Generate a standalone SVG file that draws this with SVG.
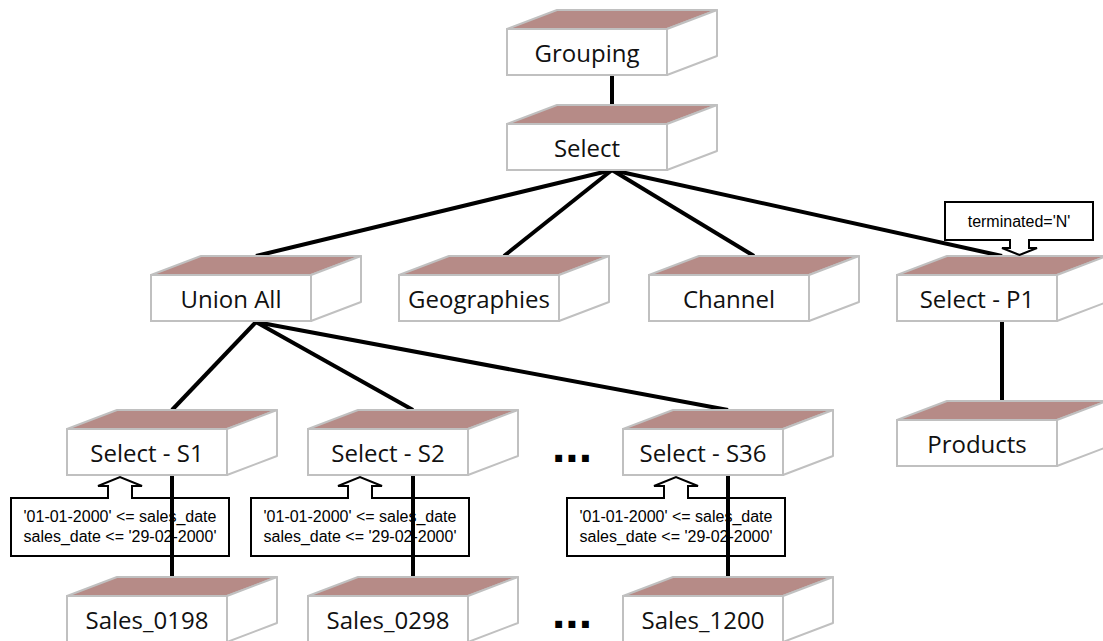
<svg xmlns="http://www.w3.org/2000/svg" width="1103" height="641" viewBox="0 0 1103 641">
  <style>
    .front { fill: #ffffff; stroke: #c0c0c0; stroke-width: 2; }
    .top { fill: #b68b87; stroke: #c0c0c0; stroke-width: 2; stroke-linejoin: round; }
    .side { fill: #ffffff; stroke: #c0c0c0; stroke-width: 2; stroke-linejoin: round; }
    .label { font-family: "Open Sans", "Noto Sans", sans-serif; font-size: 24px; fill: #111111; text-anchor: middle; }
    .edge { stroke: #000000; stroke-width: 4; fill: none; stroke-linecap: butt; }
    .note { fill: #ffffff; stroke: #000000; stroke-width: 2; stroke-linejoin: miter; }
    .notetext { font-family: "Liberation Sans", Arial, sans-serif; font-size: 16px; fill: #000000; text-anchor: middle; }
    .dots { font-family: "Liberation Sans", Arial, sans-serif; font-size: 48px; font-weight: bold; fill: #000000; }
  </style>
  <defs>
    <!-- 3D block: front face 160x46, depth offset (50,-19) -->
    <g id="block">
      <polygon class="top" points="0,0 50,-19 210,-19 160,0"/>
      <polygon class="side" points="160,0 210,-19 210,27 160,46"/>
      <rect class="front" x="0" y="0" width="160" height="46"/>
    </g>
  </defs>

  <!-- date-range predicates on the partition selects -->
  <g id="note-s1">
    <path class="note" d="M11 498 H108 V486 H98 L120 477 L142 486 H132 V498 H229 V556 H11 Z"/>
    <text class="notetext" x="120" y="522">'01-01-2000' &lt;= sales_date</text>
    <text class="notetext" x="120" y="542">sales_date &lt;= '29-02-2000'</text>
  </g>
  <g id="note-s2">
    <path class="note" d="M251 498 H348 V486 H338 L360 477 L382 486 H372 V498 H469 V556 H251 Z"/>
    <text class="notetext" x="360" y="522">'01-01-2000' &lt;= sales_date</text>
    <text class="notetext" x="360" y="542">sales_date &lt;= '29-02-2000'</text>
  </g>
  <g id="note-s36">
    <path class="note" d="M567 498 H664 V486 H654 L676 477 L698 486 H688 V498 H785 V556 H567 Z"/>
    <text class="notetext" x="676" y="522">'01-01-2000' &lt;= sales_date</text>
    <text class="notetext" x="676" y="542">sales_date &lt;= '29-02-2000'</text>
  </g>

  <!-- tree edges, drawn beneath the blocks -->
  <g id="connectors">
    <line class="edge" x1="612" y1="75" x2="612" y2="106"/>
    <line class="edge" x1="612" y1="170" x2="256" y2="256"/>
    <line class="edge" x1="612" y1="170" x2="504" y2="256"/>
    <line class="edge" x1="612" y1="170" x2="754" y2="256"/>
    <line class="edge" x1="612" y1="170" x2="1002" y2="256"/>
    <line class="edge" x1="256" y1="322" x2="172" y2="410"/>
    <line class="edge" x1="256" y1="322" x2="413" y2="410"/>
    <line class="edge" x1="256" y1="322" x2="728" y2="410"/>
    <line class="edge" x1="1002" y1="321" x2="1002" y2="402"/>
    <line class="edge" x1="172" y1="476" x2="172" y2="578"/>
    <line class="edge" x1="413" y1="476" x2="413" y2="578"/>
    <line class="edge" x1="728" y1="476" x2="728" y2="578"/>
  </g>

  <g id="grouping">
    <use href="#block" x="507" y="29"/>
    <text class="label" x="587" y="62">Grouping</text>
  </g>
  <g id="select">
    <use href="#block" x="507" y="124"/>
    <text class="label" x="587" y="157">Select</text>
  </g>
  <g id="union-all">
    <use href="#block" x="151" y="275"/>
    <text class="label" x="231" y="308">Union All</text>
  </g>
  <g id="geographies">
    <use href="#block" x="399" y="275"/>
    <text class="label" x="479" y="308">Geographies</text>
  </g>
  <g id="channel">
    <use href="#block" x="649" y="275"/>
    <text class="label" x="729" y="308">Channel</text>
  </g>
  <g id="select-p1">
    <use href="#block" x="897" y="275"/>
    <text class="label" x="977" y="308">Select - P1</text>
  </g>
  <g id="products">
    <use href="#block" x="897" y="420"/>
    <text class="label" x="977" y="453">Products</text>
  </g>
  <g id="select-s1">
    <use href="#block" x="67" y="429"/>
    <text class="label" x="147" y="462">Select - S1</text>
  </g>
  <g id="select-s2">
    <use href="#block" x="308" y="429"/>
    <text class="label" x="388" y="462">Select - S2</text>
  </g>
  <g id="select-s36">
    <use href="#block" x="623" y="429"/>
    <text class="label" x="703" y="462">Select - S36</text>
  </g>
  <g id="sales-0198">
    <use href="#block" x="67" y="596"/>
    <text class="label" x="147" y="629">Sales_0198</text>
  </g>
  <g id="sales-0298">
    <use href="#block" x="308" y="596"/>
    <text class="label" x="388" y="629">Sales_0298</text>
  </g>
  <g id="sales-1200">
    <use href="#block" x="623" y="596"/>
    <text class="label" x="703" y="629">Sales_1200</text>
  </g>

  <!-- omitted partitions -->
  <text class="dots" x="552" y="462">...</text>
  <text class="dots" x="552" y="628">...</text>

  <!-- product filter -->
  <g id="note-p1">
    <path class="note" d="M945 240 V202 H1093 V240 H1029 V248 H1037 L1019.5 255 L1002 248 H1010 V240 Z"/>
    <text class="notetext" x="1019" y="227">terminated='N'</text>
  </g>
</svg>
